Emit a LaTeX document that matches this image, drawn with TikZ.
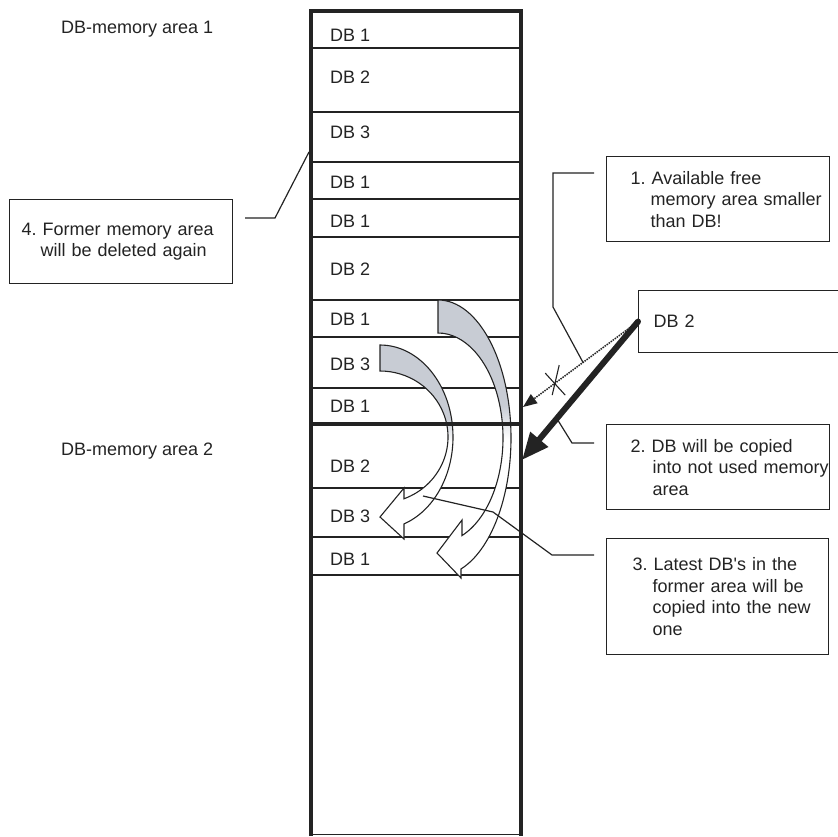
\documentclass[tikz,border=0pt]{standalone}
\usepackage{fontspec}
\setmainfont{Liberation Sans}
\usepackage{tikz}
\usetikzlibrary{arrows.meta,positioning,calc}

\definecolor{ink}{RGB}{35,35,35}
\definecolor{arrowgray}{RGB}{200,204,212}
\pgfdeclareverticalshading{arrowfade}{100bp}{color(0bp)=(white); color(50bp)=(white); color(56bp)=(arrowgray); color(100bp)=(arrowgray)}

\begin{document}
\begin{tikzpicture}[x=1pt, y=-1pt,
    font=\fontsize{18}{21.5}\selectfont\frenchspacing,
    wall/.style={draw=ink, line width=4},
    sep/.style={draw=ink, line width=1.1},
    lbl/.style={inner sep=0, anchor=base west, text=ink},
    note/.style={draw=ink, line width=1.2, inner xsep=0, inner ysep=0, align=left, anchor=north west, text=ink},
    lead/.style={draw=ink, line width=1.2},
    bent/.style={shading=arrowfade, draw=ink, line width=1.1}]

  \useasboundingbox (0,0) rectangle (838,836);
  \def\colL{311}
  \def\colR{520.5}

  % Memory column: separators between the DBs
  \foreach \ypos in {48,112,162,300,337,388,488,537,575}
    \draw[sep] (\colL,\ypos) -- (\colR,\ypos);
  \foreach \ypos in {199,237}
    \draw[sep, line width=1.7] (\colL,\ypos) -- (\colR,\ypos);
  \draw[sep, line width=0.8] (\colL,834) -- (\colR,834);

  % DB labels in the column
  \foreach \ybase/\num [count=\i] in {41/1, 83/2, 138/3, 188/1, 227/1, 275/2,
                                      325/1, 370/3, 412/1, 472/2, 522/3, 565/1}
    \node[lbl] (cell\i) at (330,\ybase) {DB \num};

  % Area labels
  \node[lbl] (area1) at (61,33) {DB-memory area 1};
  \node[lbl] (area2) at (61,455) {DB-memory area 2};

  % Curved copy arrows
  \shadedraw[bent] (438,300)
    arc[start angle=-90, end angle=71.6, x radius=73, y radius=138]
    -- (461,578) -- (437,553) -- (462,520)
    -- ($(438,438)+(68.3:65 and 105)$)
    arc[start angle=68.3, end angle=-90, x radius=65, y radius=105] -- cycle;
  \shadedraw[bent] (380,345)
    arc[start angle=-90, end angle=70.8, x radius=73, y radius=92]
    -- (404,539) -- (380,517) -- (404,488)
    -- ($(380,437)+(69.3:68 and 66)$)
    arc[start angle=69.3, end angle=-90, x radius=68, y radius=66] -- cycle;

  % Column walls and area divider
  \draw[wall] (\colL,836) -- (\colL,11) -- (\colR,11) -- (\colR,836);
  \draw[wall] (\colL,424) -- (\colR,424);

  % Text boxes
  \node[note, text width=223, minimum height=85] (free) at (606,156)
    {\hspace*{24pt}1. Available free\\\hspace*{44pt}memory area smaller\\\hspace*{44pt}than DB!};
  \node[note, text width=202, minimum height=62] (incoming) at (638,290)
    {\hspace*{15pt}DB 2};
  \node[note, text width=223, minimum height=85] (copy) at (606,424)
    {\hspace*{24pt}2. DB will be copied\\\hspace*{46pt}into not used memory\\\hspace*{46pt}area};
  \node[note, text width=222, minimum height=116] (latest) at (606,538)
    {\hspace*{26pt}3. Latest DB\textquotesingle s in the\\\hspace*{46pt}former area will be\\\hspace*{46pt}copied into the new\\\hspace*{46pt}one};
  \node[note, text width=223, minimum height=84] (former) at (9,199)
    {\hspace*{12pt}4. Former memory area\\\hspace*{31pt}will be deleted again};

  % Incoming DB: blocked try and copy
  \coordinate (slot1) at (523,407);
  \coordinate (slot2) at (522,460);
  \draw[ink, line width=1.5, densely dotted, -{Triangle[length=14pt, width=11pt]}]
    (incoming.west) -- (slot1) coordinate[pos=0.478] (hit1) coordinate[pos=0.72] (cross);
  \draw[ink, line width=1.1] (cross) +(-10,-10) -- +(10,12);
  \draw[ink, line width=1.1] (cross) +(4,-18) -- +(-3,12);
  \draw[ink, line width=6, line cap=round, -{Triangle[length=27pt, width=22pt]}]
    (incoming.west) -- (slot2) coordinate[pos=0.7] (hit2);

  % Leader lines
  \draw[lead] ([shift={(-12,17)}]free.north west) -- (553,173) -- (553,307) -- (hit1);
  \draw[lead] ([shift={(-12,19)}]copy.north west) -- (572,443) -- (hit2);
  \draw[lead] ([shift={(-12,17)}]latest.north west) -- (552,555) -- (493,512) -- (423,496);
  \draw[lead] ([shift={(12,19)}]former.north east) -- (275,218) -- (309,152);

\end{tikzpicture}
\end{document}
